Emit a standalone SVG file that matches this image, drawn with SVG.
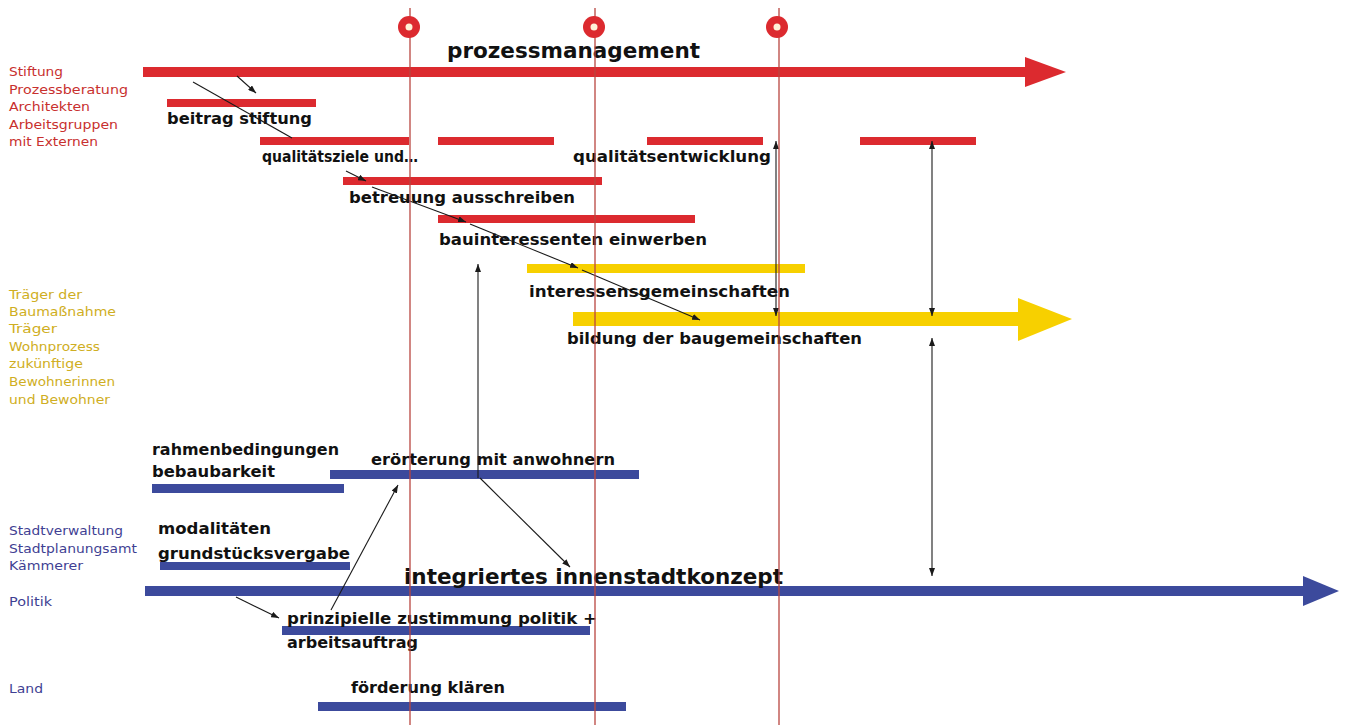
<svg xmlns="http://www.w3.org/2000/svg" width="1347" height="725" viewBox="0 0 1347 725">
<style>
.bg{fill:#ffffff}
.lbl{font-family:"DejaVu Sans","Liberation Sans",sans-serif;font-size:12.5px}
.lr{fill:#c8302e}
.ly{fill:#cfae22}
.lb{fill:#3f3f93}
.t{font-family:"DejaVu Sans","Liberation Sans",sans-serif;font-weight:bold;font-size:15px;fill:#111111}
.big{font-size:21px}
.red{fill:#dc2a2f}
.yel{fill:#f7d000}
.blu{fill:#3c4a9c}
.vl{stroke:#b8453f;stroke-width:1.3;fill:none}
.cn{stroke:#1a1a1a;stroke-width:1.1;fill:none}
.ms{fill:#dc2a2f}
.msc{fill:#fff2d8}
</style>
<defs>
<marker id="ah" viewBox="0 0 8 6" refX="8" refY="3" markerWidth="8" markerHeight="6" markerUnits="userSpaceOnUse" orient="auto-start-reverse">
<path d="M0,0 L8,3 L0,6 z" fill="#1a1a1a"/>
</marker>
</defs>
<rect class="bg" x="0" y="0" width="1347" height="725"/>

<g id="labels-stiftung" class="lbl lr">
<text x="9" y="76" textLength="54" lengthAdjust="spacingAndGlyphs">Stiftung</text>
<text x="9" y="94" textLength="119" lengthAdjust="spacingAndGlyphs">Prozessberatung</text>
<text x="9" y="111" textLength="81" lengthAdjust="spacingAndGlyphs">Architekten</text>
<text x="9" y="129" textLength="109" lengthAdjust="spacingAndGlyphs">Arbeitsgruppen</text>
<text x="9" y="146" textLength="89" lengthAdjust="spacingAndGlyphs">mit Externen</text>
</g>
<g id="labels-traeger" class="lbl ly">
<text x="9" y="299" textLength="73" lengthAdjust="spacingAndGlyphs">Träger der</text>
<text x="9" y="316" textLength="107" lengthAdjust="spacingAndGlyphs">Baumaßnahme</text>
<text x="9" y="333" textLength="48" lengthAdjust="spacingAndGlyphs">Träger</text>
<text x="9" y="351" textLength="91" lengthAdjust="spacingAndGlyphs">Wohnprozess</text>
<text x="9" y="368" textLength="74" lengthAdjust="spacingAndGlyphs">zukünftige</text>
<text x="9" y="386" textLength="106" lengthAdjust="spacingAndGlyphs">Bewohnerinnen</text>
<text x="9" y="404" textLength="101" lengthAdjust="spacingAndGlyphs">und Bewohner</text>
</g>
<g id="labels-stadt" class="lbl lb">
<text x="9" y="535" textLength="114" lengthAdjust="spacingAndGlyphs">Stadtverwaltung</text>
<text x="9" y="553" textLength="128" lengthAdjust="spacingAndGlyphs">Stadtplanungsamt</text>
<text x="9" y="570" textLength="74" lengthAdjust="spacingAndGlyphs">Kämmerer</text>
<text x="9" y="606" textLength="43" lengthAdjust="spacingAndGlyphs">Politik</text>
<text x="9" y="693" textLength="34" lengthAdjust="spacingAndGlyphs">Land</text>
</g>

<g id="prozessmanagement">
<rect class="red" x="143" y="67" width="887" height="10"/>
<polygon class="red" points="1025,57 1066,72 1025,87"/>
<text class="t big" x="447" y="58" textLength="253" lengthAdjust="spacingAndGlyphs">prozessmanagement</text>
</g>
<g id="beitrag-stiftung">
<rect class="red" x="167" y="99" width="149" height="8"/>
<text class="t" x="167" y="124" textLength="145" lengthAdjust="spacingAndGlyphs">beitrag stiftung</text>
</g>
<g id="qualitaetsziele">
<rect class="red" x="260" y="137" width="149" height="8"/>
<rect class="red" x="438" y="137" width="116" height="8"/>
<text class="t" x="262" y="162" textLength="156" lengthAdjust="spacingAndGlyphs">qualitätsziele und…</text>
</g>
<g id="qualitaetsentwicklung">
<rect class="red" x="647" y="137" width="116" height="8"/>
<rect class="red" x="860" y="137" width="116" height="8"/>
<text class="t" x="573" y="162" textLength="198" lengthAdjust="spacingAndGlyphs">qualitätsentwicklung</text>
</g>
<g id="betreuung-ausschreiben">
<rect class="red" x="343" y="177" width="259" height="8"/>
<text class="t" x="349" y="203" textLength="226" lengthAdjust="spacingAndGlyphs">betreuung ausschreiben</text>
</g>
<g id="bauinteressenten">
<rect class="red" x="438" y="215" width="257" height="8"/>
<text class="t" x="439" y="245" textLength="268" lengthAdjust="spacingAndGlyphs">bauinteressenten einwerben</text>
</g>
<g id="interessensgemeinschaften">
<rect class="yel" x="527" y="264" width="278" height="9"/>
<text class="t" x="529" y="297" textLength="261" lengthAdjust="spacingAndGlyphs">interessensgemeinschaften</text>
</g>
<g id="baugemeinschaften">
<rect class="yel" x="573" y="312" width="450" height="14"/>
<polygon class="yel" points="1018,298 1072,319 1018,341"/>
<text class="t" x="567" y="344" textLength="295" lengthAdjust="spacingAndGlyphs">bildung der baugemeinschaften</text>
</g>
<g id="rahmenbedingungen">
<text class="t" x="152" y="455" textLength="187" lengthAdjust="spacingAndGlyphs">rahmenbedingungen</text>
<text class="t" x="152" y="477" textLength="123" lengthAdjust="spacingAndGlyphs">bebaubarkeit</text>
<rect class="blu" x="152" y="484" width="192" height="9"/>
</g>
<g id="eroerterung">
<rect class="blu" x="330" y="470" width="309" height="9"/>
<text class="t" x="371" y="465" textLength="244" lengthAdjust="spacingAndGlyphs">erörterung mit anwohnern</text>
</g>
<g id="modalitaeten">
<text class="t" x="158" y="534" textLength="113" lengthAdjust="spacingAndGlyphs">modalitäten</text>
<text class="t" x="158" y="559" textLength="192" lengthAdjust="spacingAndGlyphs">grundstücksvergabe</text>
<rect class="blu" x="160" y="562" width="190" height="8"/>
</g>
<g id="innenstadtkonzept">
<rect class="blu" x="145" y="586" width="1162" height="10"/>
<polygon class="blu" points="1303,576 1339,591 1303,606"/>
<text class="t big" x="404" y="584" textLength="379" lengthAdjust="spacingAndGlyphs">integriertes innenstadtkonzept</text>
</g>
<g id="zustimmung-politik">
<rect class="blu" x="282" y="626" width="308" height="9"/>
<text class="t" x="287" y="624" textLength="310" lengthAdjust="spacingAndGlyphs">prinzipielle zustimmung politik +</text>
<text class="t" x="287" y="648" textLength="131" lengthAdjust="spacingAndGlyphs">arbeitsauftrag</text>
</g>
<g id="foerderung">
<rect class="blu" x="318" y="702" width="308" height="9"/>
<text class="t" x="351" y="693" textLength="154" lengthAdjust="spacingAndGlyphs">förderung klären</text>
</g>

<g id="connectors">
<line class="cn" x1="237" y1="76" x2="256" y2="93" marker-end="url(#ah)"/>
<line class="cn" x1="193" y1="82" x2="292" y2="138"/>
<line class="cn" x1="346" y1="171" x2="366" y2="181" marker-end="url(#ah)"/>
<line class="cn" x1="372" y1="187" x2="466" y2="222" marker-end="url(#ah)"/>
<line class="cn" x1="470" y1="224" x2="578" y2="268" marker-end="url(#ah)"/>
<line class="cn" x1="582" y1="270" x2="700" y2="320" marker-end="url(#ah)"/>
<line class="cn" x1="478" y1="478" x2="478" y2="264" marker-end="url(#ah)"/>
<line class="cn" x1="480" y1="478" x2="570" y2="567" marker-end="url(#ah)"/>
<line class="cn" x1="331" y1="610" x2="398" y2="485" marker-end="url(#ah)"/>
<line class="cn" x1="236" y1="597" x2="279" y2="618" marker-end="url(#ah)"/>
<line class="cn" x1="776" y1="141" x2="776" y2="316" marker-start="url(#ah)" marker-end="url(#ah)"/>
<line class="cn" x1="932" y1="141" x2="932" y2="316" marker-start="url(#ah)" marker-end="url(#ah)"/>
<line class="cn" x1="932" y1="338" x2="932" y2="576" marker-start="url(#ah)" marker-end="url(#ah)"/>
</g>

<g id="milestones">
<line class="vl" x1="410" y1="8" x2="410" y2="725"/>
<line class="vl" x1="595" y1="8" x2="595" y2="725"/>
<line class="vl" x1="779" y1="8" x2="779" y2="725"/>
<circle class="ms" cx="409" cy="27" r="11"/>
<circle class="msc" cx="409" cy="27" r="3.5"/>
<circle class="ms" cx="594" cy="27" r="11"/>
<circle class="msc" cx="594" cy="27" r="3.5"/>
<circle class="ms" cx="777" cy="27" r="11"/>
<circle class="msc" cx="777" cy="27" r="3.5"/>
</g>
</svg>
